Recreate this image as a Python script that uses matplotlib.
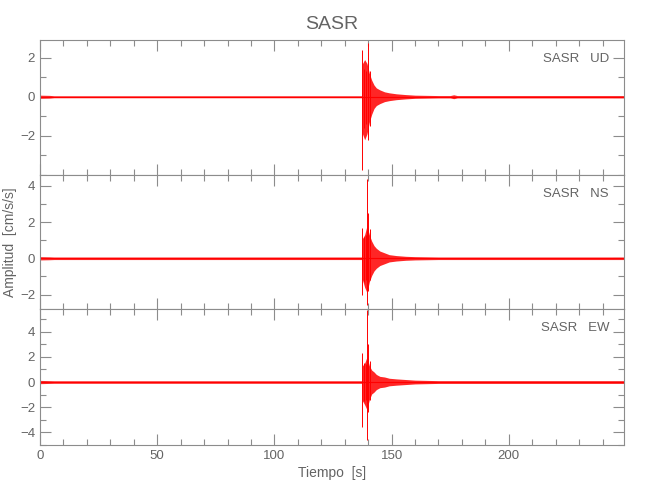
import numpy as np
import matplotlib
matplotlib.use("Agg")
import matplotlib.pyplot as plt
from matplotlib.ticker import MultipleLocator

# Station / components
station = "SASR"
components = ["UD", "NS", "EW"]
x_max = 249

# Body envelope of each trace (time [s], upper, lower)
ud_t = [0, 4, 6, 137.3, 137.6, 138.5, 139.5, 140.5, 141.5, 142.5, 143.5, 145, 147, 149, 152, 156, 160, 170, 175, 176.5, 178, 200, 249]
ud_hi = [0.08, 0.07, 0.05, 0.05, 1.7, 1.9, 1.7, 1.2, 0.85, 0.6, 0.45, 0.35, 0.25, 0.2, 0.15, 0.11, 0.08, 0.06, 0.06, 0.1, 0.06, 0.06, 0.06]
ud_lo = [-0.08, -0.07, -0.05, -0.05, -1.9, -2.2, -1.9, -1.3, -0.9, -0.6, -0.45, -0.35, -0.25, -0.2, -0.15, -0.11, -0.08, -0.06, -0.06, -0.1, -0.06, -0.06, -0.06]

ns_t = [0, 4, 6, 137.3, 137.6, 138.5, 139.5, 140.5, 141.5, 142.5, 143.5, 145, 147, 149, 152, 156, 160, 170, 249]
ns_hi = [0.09, 0.08, 0.07, 0.07, 1.1, 1.3, 1.8, 1.3, 0.95, 0.7, 0.55, 0.4, 0.3, 0.2, 0.15, 0.11, 0.09, 0.07, 0.07]
ns_lo = [-0.09, -0.08, -0.07, -0.07, -1.2, -1.6, -1.9, -1.3, -0.95, -0.7, -0.55, -0.4, -0.3, -0.2, -0.15, -0.11, -0.09, -0.07, -0.07]

ew_t = [0, 4, 6, 137.3, 137.6, 138.5, 139.5, 140.5, 141.5, 142.5, 143.5, 145, 147, 149, 152, 156, 160, 170, 249]
ew_hi = [0.13, 0.11, 0.1, 0.1, 1.3, 1.5, 2.0, 1.3, 0.95, 0.8, 0.6, 0.45, 0.4, 0.3, 0.25, 0.2, 0.15, 0.11, 0.11]
ew_lo = [-0.13, -0.11, -0.1, -0.1, -1.5, -1.8, -2.2, -1.4, -0.95, -0.8, -0.6, -0.45, -0.4, -0.3, -0.25, -0.2, -0.15, -0.11, -0.11]

# Largest single swings (time, min, max)
ud_spk_t = [137.5, 138.3, 139.0, 139.8, 140.1, 140.6]
ud_spk_lo = [-3.75, -1.6, -1.4, -2.2, -2.0, -1.5]
ud_spk_hi = [2.4, 1.4, 1.3, 2.77, 2.0, 1.3]

ns_spk_t = [137.5, 138.3, 139.0, 139.7, 140.0, 140.6]
ns_spk_lo = [-2.05, -1.3, -1.2, -2.6, -1.8, -1.2]
ns_spk_hi = [1.7, 1.2, 1.3, 4.4, 2.5, 1.6]

ew_spk_t = [137.5, 138.3, 139.0, 139.7, 140.0, 140.6]
ew_spk_lo = [-3.6, -1.5, -1.4, -4.6, -2.4, -1.4]
ew_spk_hi = [2.3, 1.5, 1.4, 5.7, 3.0, 1.7]

ylims = [(-4.0, 2.9), (-2.8, 4.6), (-5.0, 5.8)]
yticks = [[-2, 0, 2], [-2, 0, 2, 4], [-4, -2, 0, 2, 4]]

env = [(ud_t, ud_hi, ud_lo), (ns_t, ns_hi, ns_lo), (ew_t, ew_hi, ew_lo)]
spk = [(ud_spk_t, ud_spk_lo, ud_spk_hi), (ns_spk_t, ns_spk_lo, ns_spk_hi),
       (ew_spk_t, ew_spk_lo, ew_spk_hi)]

txt = "#646464"
axc = "#8c8c8c"
plt.rcParams['font.family'] = ["Liberation Sans", "DejaVu Sans"]

fig = plt.figure(figsize=(6.5, 5), dpi=100)
boxes = [(0.0615, 0.65, 0.898, 0.27), (0.0615, 0.382, 0.898, 0.268),
         (0.0615, 0.11, 0.898, 0.272)]

for i, comp in enumerate(components):
    ax = fig.add_axes(boxes[i])
    t, hi, lo = env[i]
    ax.fill_between(t, lo, hi, color="red", lw=0, alpha=0.85)
    st, slo, shi = spk[i]
    ax.vlines(st, slo, shi, color="red", lw=0.7)
    ax.axhline(0, color="red", lw=0.8)

    ax.set_xlim(0, x_max)
    ax.set_ylim(*ylims[i])
    ax.set_yticks(yticks[i])
    ax.xaxis.set_major_locator(MultipleLocator(50))
    ax.xaxis.set_minor_locator(MultipleLocator(10))
    ax.yaxis.set_minor_locator(MultipleLocator(1))
    ax.tick_params(which="both", direction="in", top=True, right=True,
                   colors=axc, labelcolor=txt, labelsize=9.5, width=0.8)
    ax.tick_params(which="major", length=8)
    ax.tick_params(which="minor", length=4)
    for s in ax.spines.values():
        s.set_color(axc)
        s.set_linewidth(0.8)
    if i < 2:
        ax.set_xticklabels([])
    else:
        ax.set_xlabel("Tiempo  [s]", color=txt, fontsize=10, labelpad=3)
    if i == 1:
        ax.set_ylabel("Amplitud  [cm/s/s]", color=txt, fontsize=10, labelpad=2)
    ax.text(0.975, 0.86, station + "   " + comp, transform=ax.transAxes,
            ha="right", va="center", color=txt, fontsize=9.5)
    if i == 0:
        ax.set_title(station, color=txt, fontsize=14, pad=8)

fig.savefig("out.png", dpi=100)
